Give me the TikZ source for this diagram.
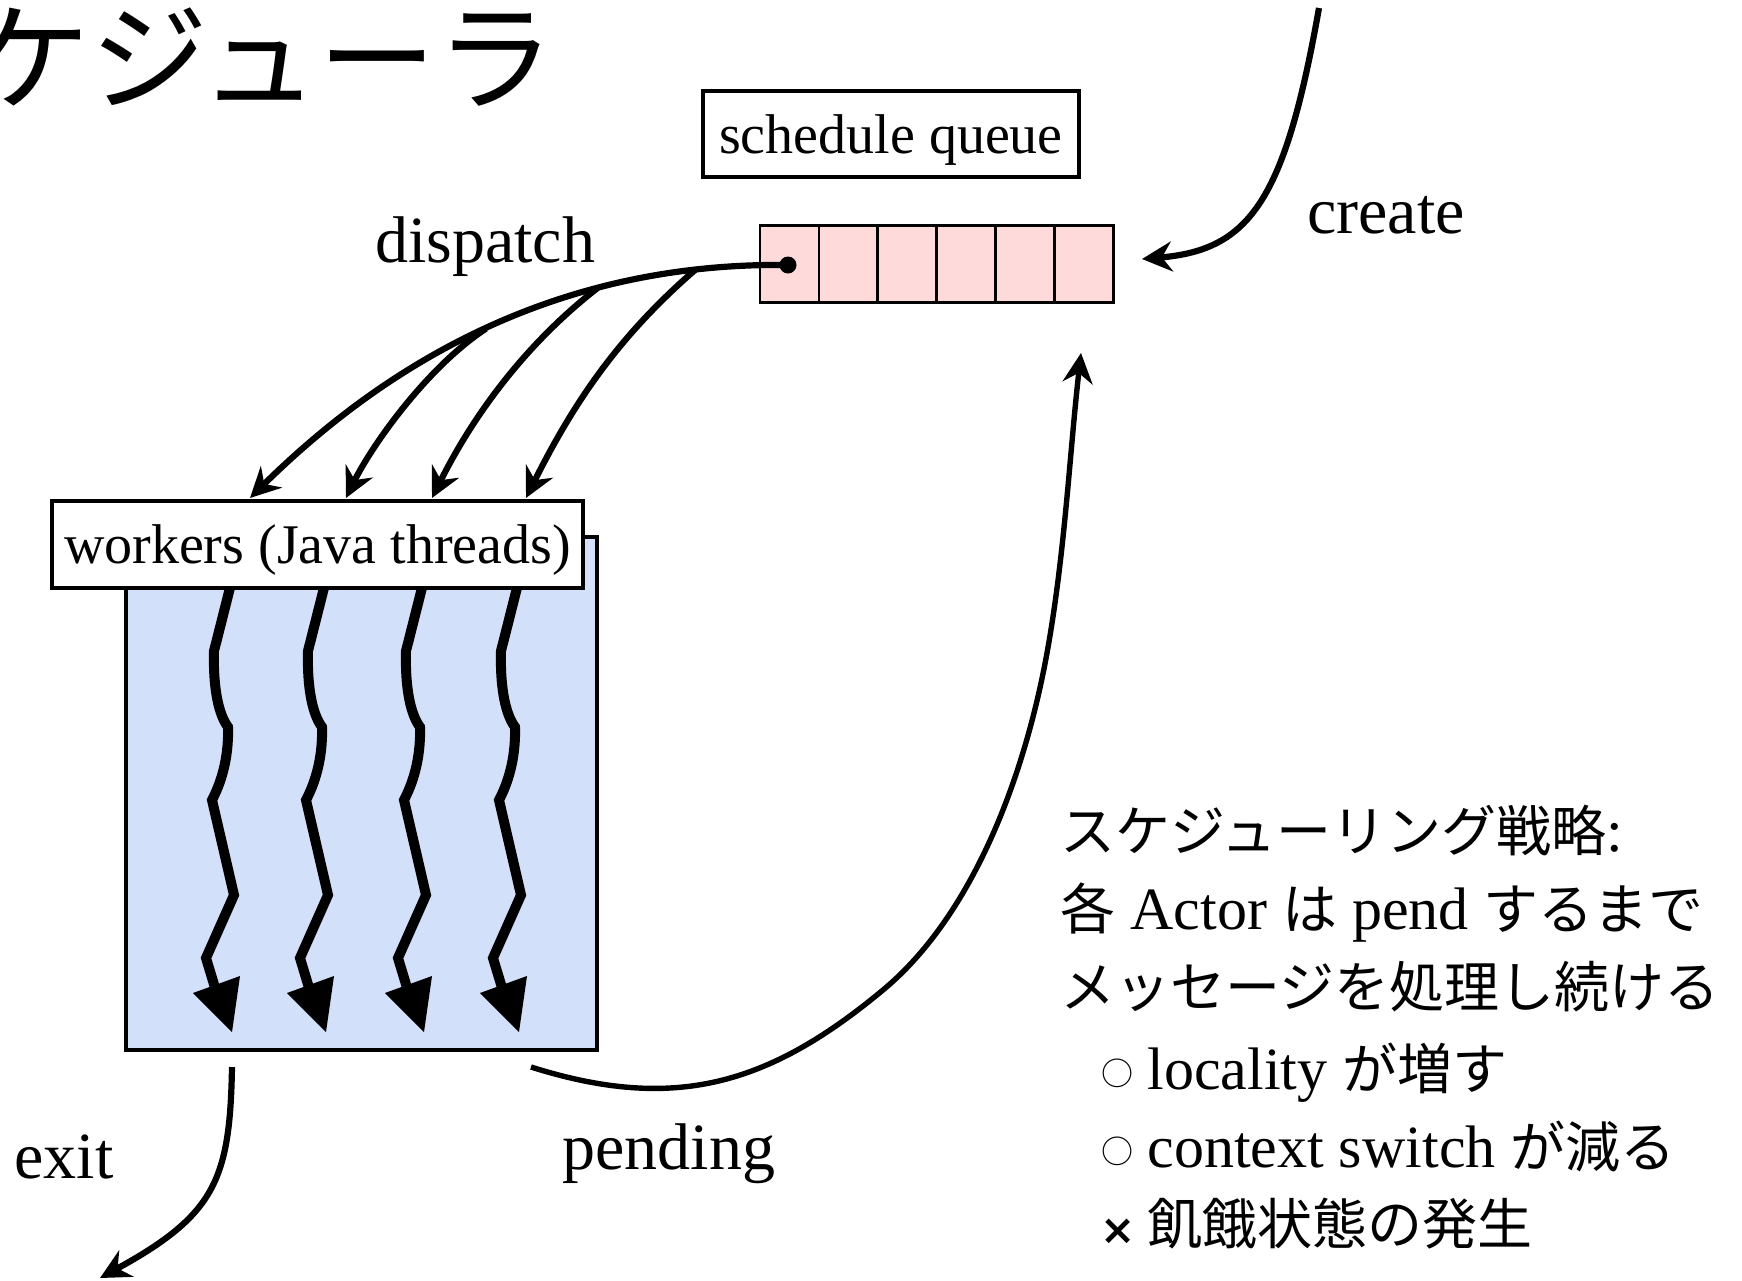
\documentclass[tikz,border=0pt]{standalone}
\usepackage{fontspec}
\setmainfont{Liberation Serif}
\newfontfamily\jp{Noto Sans CJK JP}
\newfontfamily\jps[Scale=0.917]{Noto Sans CJK JP}
\newfontfamily\dvs{DejaVu Sans}
\usetikzlibrary{arrows.meta}
\definecolor{qpink}{RGB}{255,218,218}
\definecolor{wblue}{RGB}{211,224,250}
\newcommand{\wcirc}{\hspace{-1.5pt}{\fontsize{16}{16}\jp\raisebox{2pt}{○}}\hspace{7pt}}
\newcommand{\wcross}{\hspace{-2pt}{\fontsize{21}{21}\dvs\bfseries ×}\hspace{6pt}}
\begin{document}
\begin{tikzpicture}[x=0.5pt,y=-0.5pt,
  arr/.style={line width=3.1pt,-{Stealth[length=15pt,width=15pt,inset=5pt]}},
  cell/.style={draw,line width=1.35pt,fill=qpink,minimum width=29.45pt,minimum height=38.5pt,inner sep=0pt,outer sep=0pt},
  boxlabel/.style={draw,line width=1.8pt,fill=white,inner sep=0pt,font=\fontsize{28}{32}\selectfont},
  lab/.style={font=\fontsize{33}{38}\selectfont,inner sep=0pt,anchor=base},
  strat/.style={font=\fontsize{30}{36}\selectfont,inner sep=0pt,anchor=base west},
  thread/.style={line width=5pt}
]
\useasboundingbox (0,0) rectangle (1742,1281);

% title
\node[anchor=base west,inner sep=0pt,font=\fontsize{59}{60}\jp] (title) at (-28,101) {ケジューラ};

% workers box
\node[draw,line width=2pt,fill=wblue,minimum width=235.5pt,minimum height=256.5pt,inner sep=0pt] (wb) at (361.5,793.5) {};
\foreach \dx in {0,94,192,287} {
  \draw[thread] ({232+\dx},580) -- ({214+\dx},651)
     .. controls ({213+\dx},690) and ({219+\dx},715) .. ({228+\dx},727)
     .. controls ({229+\dx},760) and ({220+\dx},785) .. ({212+\dx},800)
     -- ({234+\dx},895) -- ({206+\dx},958) -- ({216+\dx},991);
  \fill ({193+\dx},993) -- ({240+\dx},976) -- ({232+\dx},1032) -- cycle;
}
\node[boxlabel,minimum width=265.5pt,minimum height=43.5pt,text height=23.5pt,text depth=5pt] (wl) at (317.5,544.5) {workers (Java threads)};

% schedule queue
\node[boxlabel,minimum width=188pt,minimum height=43pt,text height=25.1pt,text depth=6.1pt] (sq) at (891,134) {schedule queue};
\foreach \i in {1,...,6} \node[cell] (c\i) at ({760+29.45+(\i-1)*58.9},264) {};
\node[circle,fill,inner sep=0pt,minimum size=8.5pt] (dot) at (788,265) {};

% dispatch arrows
\coordinate (t1) at (250,498);
\coordinate (t2) at (346,498);
\coordinate (t3) at (432,498);
\coordinate (t4) at (526,498);
\draw[arr] (dot.center) .. controls (560,262) and (390,360) .. coordinate[pos=0.14] (b4) coordinate[pos=0.3] (b3) coordinate[pos=0.5] (b2) (t1);
\draw[arr] (b4) .. controls (620,335) and (575,400) .. (t4);
\draw[arr] (b3) .. controls (533,338) and (478,406) .. (t3);
\draw[arr] (b2) .. controls (426,368) and (371,447) .. (t2);

% create
\coordinate (cstart) at (1319,8);
\coordinate (ctip) at (1142,259);
\draw[arr] (cstart) .. controls (1285,200) and (1250,250) .. (ctip);

% exit
\coordinate (xstart) at (232,1067);
\coordinate (xtip) at (100,1278);
\draw[arr] (xstart) .. controls (230,1180) and (215,1215) .. (xtip);

% pending
\coordinate (pstart) at (531,1067);
\coordinate (ptip) at (1081,353);
\draw[arr,line width=2.7pt] (pstart) .. controls (673.5,1112) and (767.5,1086) .. (883,990)
   .. controls (975.4,913.2) and (1025.6,771) .. (1047,653)
   .. controls (1064.8,554.6) and (1069.7,452.4) .. (ptip);

% labels
\node[lab] (ldispatch) at (485,262) {dispatch};
\node[lab] (lcreate) at (1386,233) {create};
\node[lab] (lexit) at (64,1178) {exit};
\node[lab] (lpending) at (669,1169) {pending};

% strategy
\node[strat] (s1) at (1060,851) {{\jps スケジューリング戦略}:};
\node[strat] (s2) at (1060,929) {{\jps 各} Actor {\jps は} pend {\jps するまで}};
\node[strat] (s3) at (1060,1007) {{\jps メッセージを処理し続ける}};
\node[strat] (s4) at (1104,1089) {\wcirc locality {\jps が増す}};
\node[strat] (s5) at (1104,1167) {\wcirc context switch {\jps が減る}};
\node[strat] (s6) at (1104,1244) {\wcross{\jps 飢餓状態の発生}};
\end{tikzpicture}
\end{document}
